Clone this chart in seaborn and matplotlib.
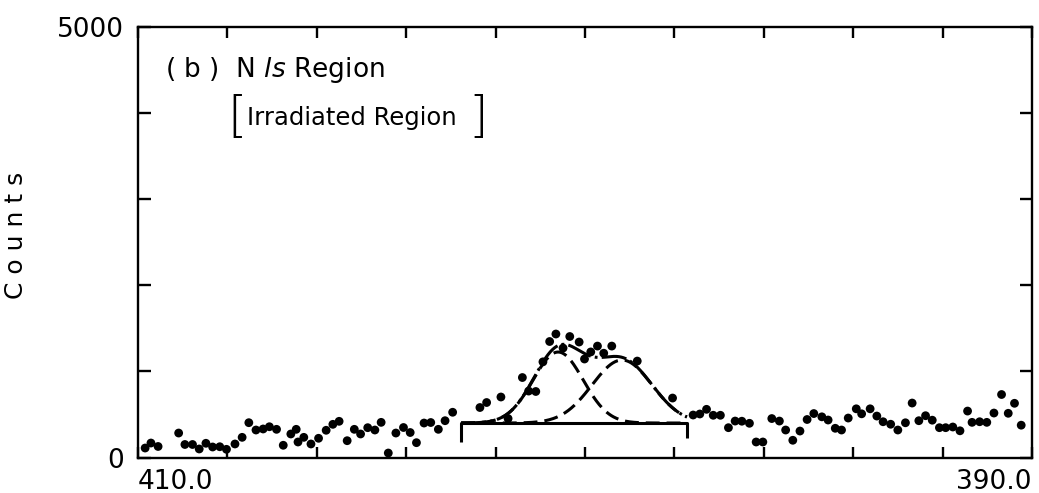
import numpy as np
import pandas as pd
import matplotlib
matplotlib.use("Agg")
import matplotlib.pyplot as plt
import seaborn as sns

# ---- data (binding energy in eV, counts) ----
energy = [409.84, 409.71, 409.55, 409.09, 408.95, 408.78, 408.63, 408.48, 408.33,
          408.17, 408.02, 407.83, 407.67, 407.52, 407.36, 407.20, 407.06, 406.90,
          406.75, 406.58, 406.46, 406.42, 406.29, 406.13, 405.96, 405.79, 405.64,
          405.50, 405.32, 405.16, 405.02, 404.86, 404.70, 404.56, 404.40, 404.23,
          404.06, 403.91, 403.77, 403.60, 403.45, 403.28, 403.13, 402.96, 402.35,
          402.20, 401.88, 401.72, 401.40, 401.26, 401.10, 400.94, 400.79, 400.65,
          400.49, 400.34, 400.13, 400.01, 399.87, 399.72, 399.58, 399.40, 398.83,
          398.04, 397.58, 397.43, 397.28, 397.13, 396.97, 396.79, 396.64, 396.49,
          396.32, 396.17, 396.02, 395.82, 395.65, 395.51, 395.35, 395.19, 395.03,
          394.88, 394.70, 394.56, 394.40, 394.26, 394.11, 393.93, 393.81, 393.62,
          393.47, 393.33, 393.16, 393.00, 392.83, 392.68, 392.53, 392.38, 392.23,
          392.07, 391.93, 391.77, 391.61, 391.44, 391.34, 391.17, 391.01, 390.85,
          390.68, 390.53, 390.39, 390.24]
counts = [110, 168, 128, 284, 151, 151, 99, 165, 122,
          125, 95, 157, 234, 404, 319, 331, 357, 327,
          142, 273, 327, 180, 234, 157, 223, 316, 385,
          420, 195, 327, 273, 346, 319, 408, 52, 284,
          348, 290, 172, 400, 406, 327, 427, 525, 580,
          638, 702, 452, 928, 771, 766, 1110, 1346, 1433,
          1270, 1404, 1340, 1143, 1225, 1293, 1210, 1293, 1119,
          690, 493, 505, 559, 490, 490, 346, 423, 421,
          397, 180, 180, 452, 423, 319, 200, 307, 441,
          510, 472, 435, 339, 319, 458, 565, 507, 565,
          481, 415, 386, 319, 403, 632, 427, 485, 433,
          346, 346, 354, 310, 539, 408, 415, 408, 516,
          731, 513, 629, 375]

# fitted components (Gaussian)
peak_centers = [400.60, 399.17]
peak_heights = [824, 731]
peak_sigmas = [0.56, 0.67]
background_level = 400
fit_range = [402.77, 397.72]
bracket_bottoms = [183, 223]

x_ticks = [410, 408, 406, 404, 402, 400, 398, 396, 394, 392, 390]
x_ticklabels = ["410.0", "", "", "", "", "", "", "", "", "", "390.0"]
y_ticks = [0, 1000, 2000, 3000, 4000, 5000]
y_ticklabels = ["0", "", "", "", "", "5000"]

# ---- build frames ----
pts = pd.DataFrame({"energy": energy, "counts": counts})
xf = np.linspace(fit_range[0], fit_range[1], 300)
comp1 = background_level + peak_heights[0] * np.exp(-(xf - peak_centers[0]) ** 2 / (2 * peak_sigmas[0] ** 2))
comp2 = background_level + peak_heights[1] * np.exp(-(xf - peak_centers[1]) ** 2 / (2 * peak_sigmas[1] ** 2))
total = comp1 + comp2 - background_level
fit = pd.DataFrame({"energy": xf, "c1": comp1, "c2": comp2, "total": total,
                    "bg": np.full_like(xf, background_level)})

sns.set_theme(style="ticks")
plt.rcParams["font.family"] = ["DejaVu Sans"]
plt.rcParams["mathtext.fontset"] = "dejavusans"
plt.rcParams["lines.scale_dashes"] = False
plt.rcParams["text.color"] = "black"
plt.rcParams["axes.labelcolor"] = "black"
plt.rcParams["xtick.color"] = "black"
plt.rcParams["ytick.color"] = "black"

fig = plt.figure(figsize=(10.39, 4.93), dpi=100)
ax = fig.add_axes([0.1328, 0.072, 0.8604, 0.874])

sns.scatterplot(data=pts, x="energy", y="counts", ax=ax, color="black",
                s=40, edgecolor="none", linewidth=0, zorder=3)
sns.lineplot(data=fit, x="energy", y="c1", ax=ax, color="black", lw=2.2,
             linestyle=(0, (10, 5)), sort=False, zorder=2)
sns.lineplot(data=fit, x="energy", y="c2", ax=ax, color="black", lw=2.2,
             linestyle=(0, (10, 5)), sort=False, zorder=2)
sns.lineplot(data=fit, x="energy", y="total", ax=ax, color="black", lw=2.2,
             linestyle=(0, (18, 3, 2, 3)), sort=False, zorder=2)
sns.lineplot(data=fit, x="energy", y="bg", ax=ax, color="black", lw=2.2,
             sort=False, zorder=2)
ax.vlines(fit_range, bracket_bottoms, [background_level, background_level],
          color="black", lw=2.2)

ax.set_xlim(410, 390)
ax.set_ylim(0, 5000)
ax.set_xticks(x_ticks)
ax.set_xticklabels(x_ticklabels, fontsize=19)
ax.set_yticks(y_ticks)
ax.set_yticklabels(y_ticklabels, fontsize=19)
labs = ax.get_xticklabels()
labs[0].set_ha("left")
labs[-1].set_ha("right")
ax.tick_params(axis="both", which="both", direction="in", top=True, right=True,
               width=1.7)
ax.tick_params(axis="x", length=8, pad=8)
ax.tick_params(axis="y", length=9, pad=10)
for sp in ax.spines.values():
    sp.set_linewidth(1.7)
    sp.set_color("black")
ax.set_xlabel("")
ax.set_ylabel("C o u n t s", fontsize=18, va="center")
ax.yaxis.set_label_coords(-0.137, 0.516)

ax.text(0.030, 0.899, r"( b )  N $\it{ls}$ Region", transform=ax.transAxes,
        fontsize=19, va="center", ha="left")
ax.text(0.100, 0.788, "[", transform=ax.transAxes, fontsize=36, va="center",
        ha="left", fontweight="light")
ax.text(0.122, 0.788, "Irradiated Region", transform=ax.transAxes, fontsize=17.5,
        va="center", ha="left")
ax.text(0.370, 0.788, "]", transform=ax.transAxes, fontsize=36, va="center",
        ha="left", fontweight="light")

fig.savefig("out.png", dpi=100)
